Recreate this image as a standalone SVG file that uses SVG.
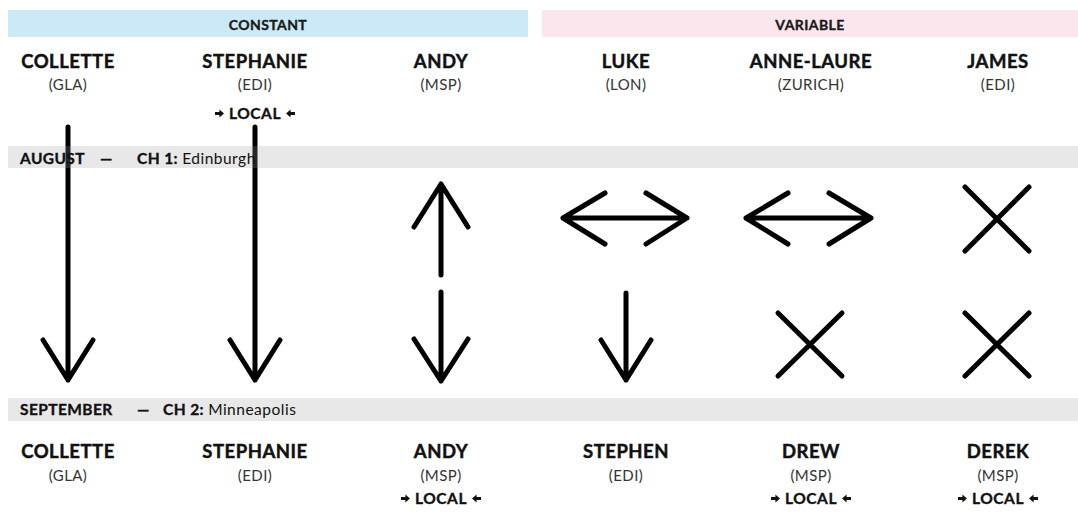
<svg xmlns="http://www.w3.org/2000/svg" width="1078" height="513" viewBox="0 0 1078 513">
  <style>
    .hdr { font-family: Lato, "Liberation Sans", sans-serif; font-weight: 700; font-size: 14px; fill: #1a1a1a; stroke: #1a1a1a; stroke-width: 0.35px; text-anchor: middle; letter-spacing: 0.4px; }
    .name { font-family: Lato, "Liberation Sans", sans-serif; font-weight: 700; font-size: 18.5px; fill: #111; stroke: #111; stroke-width: 0.45px; text-anchor: middle; letter-spacing: 0.5px; }
    .code { font-family: Lato, "Liberation Sans", sans-serif; font-weight: 400; font-size: 15px; fill: #333; text-anchor: middle; letter-spacing: 0.4px; }
    .local { font-family: Lato, "Liberation Sans", sans-serif; font-weight: 700; font-size: 15.5px; fill: #111; stroke: #111; stroke-width: 0.35px; text-anchor: middle; letter-spacing: 0.6px; }
    .band { font-family: Lato, "Liberation Sans", sans-serif; font-size: 15.5px; fill: #111; }
    .b { font-weight: 700; stroke: #111; stroke-width: 0.35px; letter-spacing: 0.4px; }
    .r { font-weight: 400; letter-spacing: 0.5px; }
    .stroke { fill: none; stroke: #000; stroke-width: 5; stroke-linecap: round; stroke-linejoin: round; }
    .veil { fill: #a0a0a0; fill-opacity: 0.24; }
  </style>
  <defs>
    <!-- small filled pointer used beside LOCAL -->
    <path id="ptr" d="M0,-1.6 H4.4 V-4 L9,0 L4.4,4 V1.6 H0 Z" fill="#111"/>
    <g id="localTag">
      <use href="#ptr" transform="translate(-40,-5.5)"/>
      <text class="local" x="0" y="0">LOCAL</text>
      <use href="#ptr" transform="translate(40,-5.5) scale(-1,1)"/>
    </g>
  </defs>

  <rect width="1078" height="513" fill="#fff"/>

  <!-- section headers -->
  <g id="header-constant">
    <rect x="8" y="10" width="520" height="27" fill="#cbe9f6"/>
    <text class="hdr" x="268" y="29.5">CONSTANT</text>
  </g>
  <g id="header-variable">
    <rect x="542" y="10" width="536" height="27" fill="#fce6ee"/>
    <text class="hdr" x="810" y="29.5">VARIABLE</text>
  </g>

  <!-- August line-up -->
  <g id="aug-collette">
    <text class="name" x="68" y="68">COLLETTE</text>
    <text class="code" x="68" y="90">(GLA)</text>
  </g>
  <g id="aug-stephanie">
    <text class="name" x="255" y="68">STEPHANIE</text>
    <text class="code" x="255" y="90">(EDI)</text>
    <use href="#localTag" x="255" y="119"/>
  </g>
  <g id="aug-andy">
    <text class="name" x="441" y="68">ANDY</text>
    <text class="code" x="441" y="90">(MSP)</text>
  </g>
  <g id="aug-luke">
    <text class="name" x="626" y="68">LUKE</text>
    <text class="code" x="626" y="90">(LON)</text>
  </g>
  <g id="aug-anne-laure">
    <text class="name" x="811" y="68">ANNE-LAURE</text>
    <text class="code" x="811" y="90">(ZURICH)</text>
  </g>
  <g id="aug-james">
    <text class="name" x="998" y="68">JAMES</text>
    <text class="code" x="998" y="90">(EDI)</text>
  </g>

  <!-- transitions -->
  <g id="connectors" class="stroke">
    <!-- Collette and Stephanie stay -->
    <path d="M68,127 V380 M43,340 L68,380 L93,340"/>
    <path d="M255,127 V380 M230,340 L255,380 L280,340"/>
    <!-- Andy: up then down -->
    <path d="M441,275 V184 M414,227 L441,184 L468,227"/>
    <path d="M441,292 V381 M414,339 L441,381 L468,339"/>
    <!-- Luke and Anne-Laure: two-way -->
    <path d="M563,218 H687 M605,193 L563,218 L605,244 M646,193 L687,218 L646,244"/>
    <path d="M746,218 H871 M788,193 L746,218 L788,244 M829,193 L871,218 L829,244"/>
    <!-- Luke down -->
    <path d="M626,293 V380 M601,340 L626,380 L651,340"/>
    <!-- crosses -->
    <path d="M965,187 L1029,251 M1029,187 L965,251"/>
    <path d="M778,313 L842,376 M842,313 L778,376"/>
    <path d="M965,313 L1029,376 M1029,313 L965,376"/>
  </g>

  <!-- month bands -->
  <g id="band-august">
    <rect class="veil" x="8" y="146" width="1070" height="22"/>
    <text class="band" y="163.5"><tspan class="b" x="20">AUGUST</tspan><tspan class="b" x="100">—</tspan><tspan class="b" x="137">CH 1: </tspan><tspan class="r">Edinburgh</tspan></text>
  </g>
  <g id="band-september">
    <rect class="veil" x="8" y="398" width="1070" height="23"/>
    <text class="band" y="415"><tspan class="b" x="20">SEPTEMBER</tspan><tspan class="b" x="137">—</tspan><tspan class="b" x="163">CH 2: </tspan><tspan class="r">Minneapolis</tspan></text>
  </g>

  <!-- September line-up -->
  <g id="sep-collette">
    <text class="name" x="68" y="458">COLLETTE</text>
    <text class="code" x="68" y="481">(GLA)</text>
  </g>
  <g id="sep-stephanie">
    <text class="name" x="255" y="458">STEPHANIE</text>
    <text class="code" x="255" y="481">(EDI)</text>
  </g>
  <g id="sep-andy">
    <text class="name" x="441" y="458">ANDY</text>
    <text class="code" x="441" y="481">(MSP)</text>
    <use href="#localTag" x="441" y="504"/>
  </g>
  <g id="sep-stephen">
    <text class="name" x="626" y="458">STEPHEN</text>
    <text class="code" x="626" y="481">(EDI)</text>
  </g>
  <g id="sep-drew">
    <text class="name" x="811" y="458">DREW</text>
    <text class="code" x="811" y="481">(MSP)</text>
    <use href="#localTag" x="811" y="504"/>
  </g>
  <g id="sep-derek">
    <text class="name" x="998" y="458">DEREK</text>
    <text class="code" x="998" y="481">(MSP)</text>
    <use href="#localTag" x="998" y="504"/>
  </g>
</svg>
